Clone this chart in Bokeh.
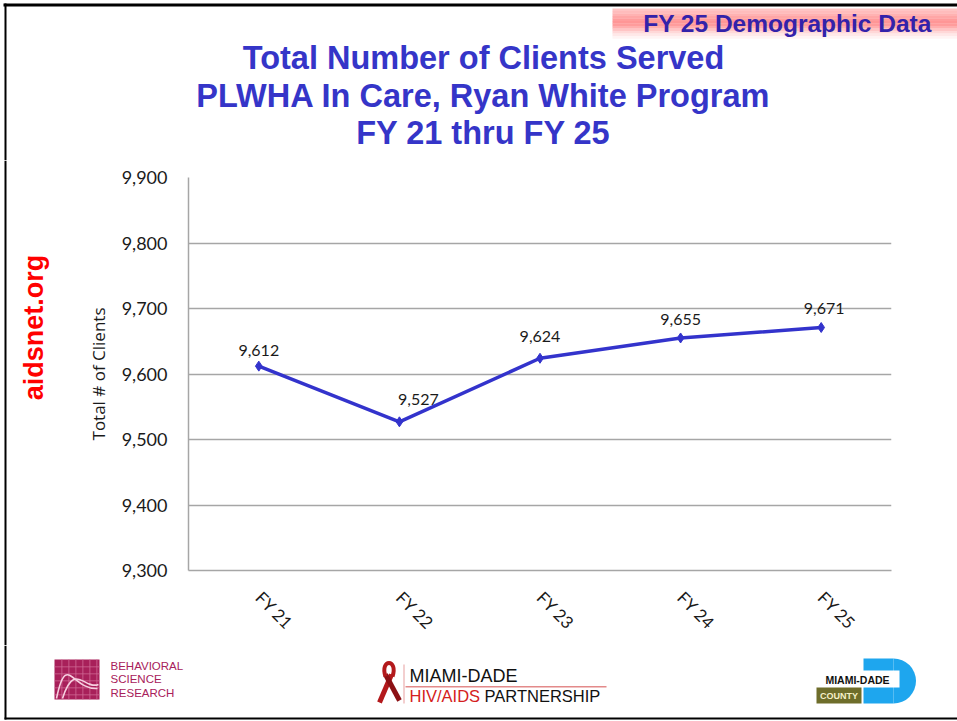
import math
from bokeh.plotting import figure
from bokeh.layouts import column, row
from bokeh.models import (Range1d, FactorRange, FixedTicker, NumeralTickFormatter,
                          ColumnDataSource, LabelSet)
from bokeh.core.properties import value
from bokeh.embed import file_html
from bokeh.resources import INLINE

# ---------------- data ----------------
categories = ["FY 21", "FY 22", "FY 23", "FY 24", "FY 25"]
clients = [9612, 9527, 9624, 9655, 9671]
value_labels = ["9,612", "9,527", "9,624", "9,655", "9,671"]
y_ticks = [9300, 9400, 9500, 9600, 9700, 9800, 9900]

title_lines = ["Total Number of Clients Served",
               "PLWHA In Care, Ryan White Program",
               "FY 21 thru FY 25"]
banner_text = "FY 25 Demographic Data"
side_text = "aidsnet.org"
y_title = "Total # of Clients"

# data-label nudges (px), like the original placement
label_dx = [0, 19, 0, 0, 3]
label_dy = [16, 22, 22, 18, 19]

PAGE_W, PAGE_H = 957, 721
TOP_H, BOT_H, LEFT_W = 160, 76, 60
MID_H = PAGE_H - TOP_H - BOT_H
FL, FR, FT, FB = 188, 891, 177, 570   # chart frame in page pixels

TITLE = "#3535c8"
BORDER = "black"


def deco_fig(w, h, x0, y0):
    f = figure(width=w, height=h, output_backend="svg", toolbar_location=None,
               x_range=Range1d(x0, x0 + w), y_range=Range1d(y0 + h, y0),
               min_border=0, frame_align=False)
    f.axis.visible = False
    f.grid.visible = False
    f.outline_line_color = None
    f.background_fill_color = "white"
    f.border_fill_color = "white"
    return f


def txt(f, x, y, s, size, color, font="Liberation Sans", style="normal",
        align="center", angle=0.0):
    f.text(x=[x], y=[y], text=[s], text_font=value(font), text_font_size=f"{size}px",
           text_font_style=style, text_color=color, text_align=align,
           text_baseline="middle", angle=angle)


def rect(f, l, t, r, b, color):
    f.quad(left=[l], right=[r], top=[t], bottom=[b], fill_color=color, line_color=None)


# ---------------- top strip: banner + title ----------------
top = deco_fig(PAGE_W, TOP_H, 0, 0)
rect(top, 3, 3, 957, 6, BORDER)
rect(top, 4, 3, 6, TOP_H, BORDER)
strip_colors = ["#ffc4c4", "#ffbcbc", "#ffb2b2", "#ffa6a6", "#ff9c9c", "#ff9696",
                "#ff9c9c", "#ffaeae", "#ffc4c4", "#ffd8d8", "#ffe8e8", "#fff4f4"]
for i, c in enumerate(strip_colors):
    rect(top, 612, 8 + i * 2.5, 957, 8 + (i + 1) * 2.5 + 0.3, c)
txt(top, 787, 23, banner_text, 24.5, "#3322aa", style="bold")
for ty, t in zip([57, 95, 132], title_lines):
    txt(top, 483, ty, t, 32.5, TITLE, style="bold")

# ---------------- left strip: url ----------------
left = deco_fig(LEFT_W, MID_H, 0, TOP_H)
rect(left, 4, TOP_H, 6, TOP_H + MID_H, BORDER)
txt(left, 33, 327, side_text, 27, "#ff0000", style="bold", angle=math.pi / 2)

# ---------------- chart ----------------
CW = PAGE_W - LEFT_W
p = figure(width=CW, height=MID_H, output_backend="svg", toolbar_location=None,
           x_range=FactorRange(*categories, range_padding=0),
           y_range=Range1d(9300, 9900), frame_align=False)
p.min_border_left = FL - LEFT_W
p.min_border_right = PAGE_W - FR
p.min_border_top = FT - TOP_H
p.min_border_bottom = TOP_H + MID_H - FB
p.outline_line_color = None
p.background_fill_color = "white"
p.border_fill_color = "white"

GRID = "#a6a6a6"
p.xgrid.grid_line_color = None
p.ygrid.grid_line_color = GRID
p.ygrid.grid_line_width = 1.5

p.yaxis.ticker = FixedTicker(ticks=y_ticks)
p.yaxis.formatter = NumeralTickFormatter(format="0,0")
p.yaxis.axis_line_color = GRID
p.yaxis.axis_line_width = 1.5
p.yaxis.major_tick_line_color = None
p.yaxis.minor_tick_line_color = None
p.yaxis.major_label_text_font = "Lato"
p.yaxis.major_label_text_font_size = "18px"
p.yaxis.major_label_text_color = "#1a1a1a"
p.yaxis.major_label_standoff = 15
p.yaxis.axis_label = y_title
p.yaxis.axis_label_text_font = "Open Sans"
p.yaxis.axis_label_text_font_size = "17px"
p.yaxis.axis_label_text_font_style = "normal"
p.yaxis.axis_label_text_color = "#1a1a1a"
p.yaxis.axis_label_standoff = 9

p.xaxis.axis_line_color = GRID
p.xaxis.axis_line_width = 1.5
p.xaxis.major_tick_line_color = None
p.xaxis.minor_tick_line_color = None
p.xaxis.major_label_text_font = "Lato"
p.xaxis.major_label_text_font_size = "17px"
p.xaxis.major_label_text_color = "#1a1a1a"
p.xaxis.major_label_orientation = -math.pi / 4
p.xaxis.major_label_standoff = 18

LINE = "#3333cc"
src = ColumnDataSource(dict(x=categories, y=clients, t=value_labels,
                            dx=label_dx, dy=label_dy))
p.line("x", "y", source=src, line_color=LINE, line_width=3.5)
p.scatter("x", "y", source=src, marker="diamond", size=10,
          fill_color=LINE, line_color=LINE)
p.add_layout(LabelSet(x="x", y="y", text="t", source=src,
                      x_offset="dx", y_offset="dy",
                      text_align="center", text_baseline="middle",
                      text_font=value("Lato"), text_font_size="16px",
                      text_color="#1a1a1a"))

# ---------------- bottom strip: logos ----------------
bot = deco_fig(PAGE_W, BOT_H, 0, TOP_H + MID_H)
Y0 = TOP_H + MID_H
rect(bot, 4, Y0, 6, 719, BORDER)
rect(bot, 4, 717, 957, 719, BORDER)

# Behavioral Science Research
BSR = "#a8205a"
rect(bot, 54, 659, 99, 699, BSR)
for gx in [61, 68, 75, 82, 89, 96]:
    rect(bot, gx, 659, gx + 0.8, 699, "#cf6a95")
for gy in [666, 673, 680, 687, 694]:
    rect(bot, 54, gy, 99, gy + 0.8, "#cf6a95")
bot.bezier(x0=[56, 62], y0=[698, 698], x1=[97, 98], y1=[688, 684],
           cx0=[66, 74], cy0=[650, 660], cx1=[72, 84], cy1=[690, 690],
           line_color="#f6d0e0", line_width=1.6)
for i, t in enumerate(["BEHAVIORAL", "SCIENCE", "RESEARCH"]):
    txt(bot, 110, 665 + i * 13.5, t, 11.5, BSR, align="left")

# Miami-Dade HIV/AIDS Partnership
RIB = "#b3191c"
bot.line(x=[391, 379], y=[674, 702], line_color=RIB, line_width=5)
bot.line(x=[385, 399], y=[674, 700], line_color="#8c1014", line_width=5)
bot.bezier(x0=[385], y0=[676], x1=[392], y1=[676], cx0=[379], cy0=[658],
           cx1=[398], cy1=[658], line_color=RIB, line_width=4)
rect(bot, 403, 664, 404, 703, "#e8a0a0")
txt(bot, 409, 675, "MIAMI-DADE", 18, "#111111", align="left")
rect(bot, 405, 685.5, 606, 687, "#e38a8a")
txt(bot, 409, 695, "HIV/AIDS", 16.5, "#d42020", align="left")
txt(bot, 484, 695, "PARTNERSHIP", 16.5, "#111111", align="left")

# Miami-Dade County
DBLUE = "#1ea6ee"
rect(bot, 863, 658, 893, 703, DBLUE)
bot.wedge(x=[893], y=[680.5], radius=22.5, start_angle=-math.pi / 2,
          end_angle=math.pi / 2, fill_color=DBLUE, line_color=None)
rect(bot, 816, 670, 899, 687, "white")
txt(bot, 857, 679, "MIAMI-DADE", 10.5, "#111111", style="bold")
rect(bot, 816, 687, 861, 703, "#6e6d2a")
txt(bot, 838.5, 695.5, "COUNTY", 9, "#f4f0c8", style="bold")

layout = column(top, row(left, p), bot)
open("out.html", "w").write(file_html(layout, INLINE))
